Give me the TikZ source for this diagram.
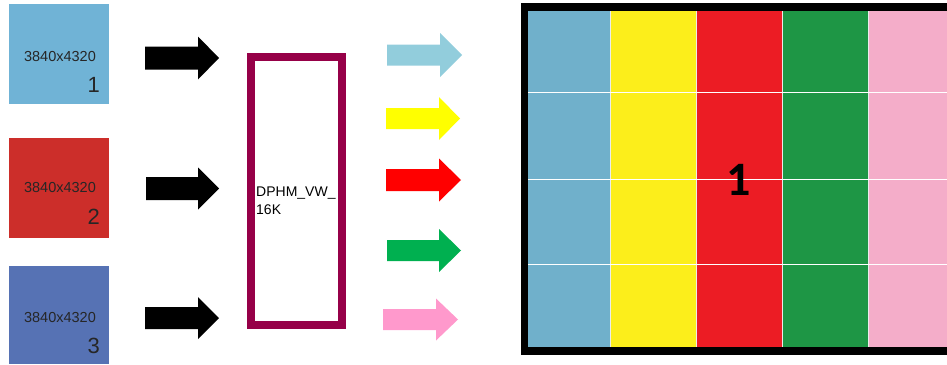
\documentclass[tikz,border=0pt]{standalone}
\usepackage{fontspec}
\setmainfont{Liberation Sans}
\newfontfamily\wallfont{Carlito}
\definecolor{inblue}{HTML}{70B3D6}
\definecolor{inred}{HTML}{CC2E2A}
\definecolor{indblue}{HTML}{5672B4}
\definecolor{maroon}{HTML}{960048}
\definecolor{arlblue}{HTML}{92CDDC}
\definecolor{aryellow}{HTML}{FFFF00}
\definecolor{arred}{HTML}{FF0000}
\definecolor{argreen}{HTML}{00B050}
\definecolor{arpink}{HTML}{FF99CC}
\definecolor{cblue}{HTML}{70B0CB}
\definecolor{cyellow}{HTML}{FCEE1B}
\definecolor{cred}{HTML}{EC1C24}
\definecolor{cgreen}{HTML}{1E9645}
\definecolor{cpink}{HTML}{F4ADC9}
\tikzset{
  srcbox/.style={draw=none, inner sep=0pt, minimum width=100pt, minimum height=100pt, anchor=north west},
  srctext/.style={font=\fontsize{14.5}{16}\selectfont, inner sep=0pt, text=black!85},
  srcnum/.style={font=\fontsize{22}{24}\selectfont, inner sep=0pt, anchor=east, text=black!85},
}
% block arrow: x1, x2, xhead, yc, shaft half, head half, colour
\newcommand{\blockarr}[7]{%
  \fill[#7] (#1,#4-#5) -- (#3,#4-#5) -- (#3,#4-#6) -- (#2,#4) -- (#3,#4+#6) -- (#3,#4+#5) -- (#1,#4+#5) -- cycle;}
\begin{document}
\begin{tikzpicture}[x=1pt,y=-1pt]
\useasboundingbox (0,0) rectangle (947,364);
% source boxes
\node[srcbox, fill=inblue] (s1) at (9,4) {};
\node[srcbox, fill=inred] (s2) at (9,138) {};
\node[srcbox, fill=indblue, minimum height=98pt] (s3) at (9,266) {};
\node[srctext] (t1) at (60,57) {3840x4320};
\node[srcnum] (n1) at (100,85) {1};
\node[srctext] (t2) at (60,188) {3840x4320};
\node[srcnum] (n2) at (100,217) {2};
\node[srctext] (t3) at (60,318) {3840x4320};
\node[srcnum] (n3) at (100,346) {3};
% black arrows
\blockarr{145}{219}{198}{58}{11.5}{21.5}{black}
\blockarr{146}{219}{198}{188.5}{11.5}{21}{black}
\blockarr{145}{219}{198}{318}{11}{21}{black}
% processor box
\draw[maroon, line width=8pt] (251,57) rectangle (342,325);
\node[inner sep=0pt, anchor=north west, align=left, font=\fontsize{14}{18}\selectfont] (dp) at (256,187) {DPHM\_VW\_\\16K};
% coloured arrows
\blockarr{387}{462}{440}{55}{10.5}{22}{arlblue}
\blockarr{386}{460}{439}{118.5}{10.5}{21.5}{aryellow}
\blockarr{386}{461}{439}{180}{11}{21.5}{arred}
\blockarr{387}{461}{439}{250.5}{10.5}{21.5}{argreen}
\blockarr{383}{458}{436}{319.5}{10.5}{21}{arpink}
% display wall
\fill[black] (521,3) rectangle (947,355);
\fill[cblue] (528,11) rectangle (610,347);
\fill[cyellow] (610,11) rectangle (696,347);
\fill[cred] (696,11) rectangle (782,347);
\fill[cgreen] (782,11) rectangle (868,347);
\fill[cpink] (868,11) rectangle (947,347);
\foreach \xx in {610,696,782,868} \draw[white!85!gray, line width=1pt] (\xx,11) -- (\xx,347);
\foreach \yy in {92,179,264} \draw[white, line width=1pt] (528,\yy) -- (947,\yy);
\node[font=\wallfont\fontsize{48}{50}\selectfont\bfseries, inner sep=0pt] (w1) at (739,180) {1};
\end{tikzpicture}
\end{document}
